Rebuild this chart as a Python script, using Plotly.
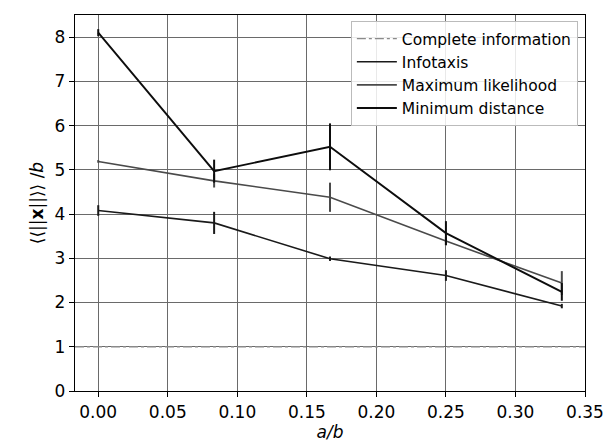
import plotly.graph_objects as go

x_vals = [0.0, 1/12, 2/12, 3/12, 4/12]

complete_x = [-0.0167, 0.35]
complete_y = [1.0, 1.0]

infotaxis_y = [4.08, 3.80, 2.99, 2.61, 1.92]
infotaxis_err = [0.12, 0.25, 0.05, 0.12, 0.05]

maxlik_y = [5.19, 4.75, 4.38, 3.39, 2.44]
maxlik_err = [0.03, 0.15, 0.33, 0.10, 0.27]

mindist_y = [8.10, 4.97, 5.52, 3.57, 2.24]
mindist_err = [0.08, 0.26, 0.53, 0.27, 0.20]

x_ticks = [0.0, 0.05, 0.10, 0.15, 0.20, 0.25, 0.30, 0.35]
y_ticks = [0, 1, 2, 3, 4, 5, 6, 7, 8]

FONT = "DejaVu Sans"

fig = go.Figure()
fig.add_trace(go.Scatter(
    x=complete_x, y=complete_y, mode="lines", name="Complete information",
    line=dict(color="#8a8a8a", width=1.3, dash="dashdot")))

def add_series(name, ys, errs, color, width):
    fig.add_trace(go.Scatter(
        x=x_vals, y=ys, mode="lines", name=name,
        line=dict(color=color, width=width),
        error_y=dict(type="data", array=errs, visible=True,
                     color=color, thickness=2, width=0)))

add_series("Infotaxis", infotaxis_y, infotaxis_err, "#1a1a1a", 1.6)
add_series("Maximum likelihood", maxlik_y, maxlik_err, "#4a4a4a", 1.6)
add_series("Minimum distance", mindist_y, mindist_err, "#0d0d0d", 1.9)

axis_common = dict(
    showline=True, mirror=True, linecolor="black", linewidth=1.3,
    ticks="outside", ticklen=5, tickwidth=1.2, tickcolor="black",
    showgrid=True, gridcolor="#6a6a6a", gridwidth=1, zeroline=False,
    tickfont=dict(family=FONT, size=17, color="black"),
)

fig.update_xaxes(
    range=[-0.0167, 0.35], tickvals=x_ticks,
    ticktext=[f"{v:.2f}" for v in x_ticks],
    title=dict(text="<i>a/b</i>", font=dict(family=FONT, size=17, color="black"), standoff=2),
    **axis_common)
fig.update_yaxes(
    range=[0, 8.5], tickvals=y_ticks,
    title=dict(text="⟨⟨||<b>x</b>||⟩⟩ /<i>b</i>", font=dict(family=FONT, size=17, color="black"), standoff=6),
    **axis_common)

fig.update_layout(
    width=611, height=441,
    margin=dict(l=67, r=34, t=7, b=58),
    plot_bgcolor="white", paper_bgcolor="white",
    font=dict(family=FONT, size=15, color="black"),
    legend=dict(
        x=0.986, y=0.984, xanchor="right", yanchor="top",
        bgcolor="rgba(255,255,255,0.85)", bordercolor="#bbbbbb", borderwidth=1,
        font=dict(family=FONT, size=15.5, color="black"),
        tracegroupgap=0, itemwidth=40,
    ),
    showlegend=True,
)

fig.write_html("out.html")
